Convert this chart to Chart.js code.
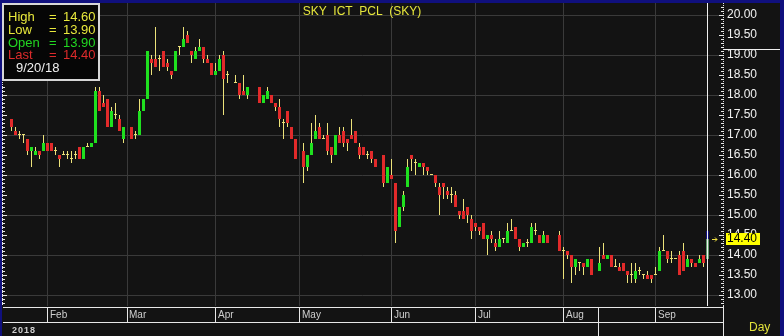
<!DOCTYPE html>
<html><head><meta charset="utf-8">
<script src="https://cdn.jsdelivr.net/npm/chart.js@4/dist/chart.umd.min.js"></script>
<style>html,body{margin:0;padding:0;background:#131313;overflow:hidden}canvas{display:block}</style>
</head><body>
<canvas id="c" width="784" height="336"></canvas>
<script>
// One slot per weekday, 19 Jan 2018 .. 20 Sep 2018 (null = exchange holiday)
const opens = [
17.4,17.1,17.0,17.0,16.9,16.6,16.5,16.6,16.6,16.8,
16.8,16.6,16.5,16.5,16.5,16.4,16.5,16.7,16.4,16.7,
16.7,16.8,18.1,17.8,17.9,17.2,17.5,17.4,16.9,null,
17.2,17.0,17.0,17.6,17.9,18.9,18.9,18.9,19.1,18.8,
18.6,18.6,19.2,19.2,19.5,19.1,18.9,19.1,19.2,18.9,
18.8,18.5,18.6,19.0,18.5,null,18.3,18.3,18.1,18.0,
null,null,18.2,17.8,17.9,18.0,17.8,17.7,17.3,17.6,
17.2,16.9,null,16.6,16.2,16.5,16.9,17.2,16.9,17.0,
16.7,16.5,17.0,17.1,16.9,17.0,17.1,16.7,16.7,16.5,
16.6,16.4,null,16.5,15.8,16.0,15.8,14.7,15.2,15.7,
16.5,16.3,16.2,16.3,16.2,16.0,16.0,15.7,15.8,15.6,
15.5,15.5,15.1,15.1,15.2,14.9,14.8,14.7,14.8,14.4,
14.5,14.3,14.2,14.4,14.3,14.6,14.7,14.4,14.2,14.3,
14.3,14.6,14.5,14.3,14.5,null,null,14.5,14.1,14.1,
14.0,13.7,13.8,13.8,13.7,13.9,null,13.6,14.0,13.9,
14.0,13.7,13.7,13.8,13.6,13.5,13.4,13.6,13.5,13.5,
13.5,13.5,13.6,14.1,14.1,13.9,13.9,14.0,14.1,13.7,
13.9,13.8,13.8,14.0,13.9];
const highs = [
17.4,17.2,17.1,17.0,16.9,16.7,16.7,16.6,17.0,16.8,
16.8,16.7,16.5,16.6,16.6,16.6,16.6,16.7,16.7,16.8,
16.8,18.2,18.2,18.0,17.9,17.7,17.8,17.5,17.2,null,
17.2,17.1,17.9,17.9,19.1,19.0,19.7,19.0,19.1,18.9,
18.6,19.1,19.2,19.7,19.6,19.1,19.2,19.4,19.2,19.0,
18.8,18.8,19.0,19.1,18.6,null,18.5,18.3,18.5,18.2,
null,null,18.2,18.0,18.2,18.0,17.8,17.9,17.4,17.6,
17.2,16.9,null,16.8,16.5,17.3,17.5,17.3,17.0,17.3,
16.7,17.0,17.2,17.2,16.9,17.4,17.1,16.8,16.7,16.6,
16.6,16.4,null,16.5,16.2,16.4,15.8,15.2,15.6,16.4,
16.5,16.4,16.3,16.3,16.2,16.0,16.0,15.8,15.8,15.7,
15.7,15.6,15.1,15.4,15.2,15.0,14.8,14.7,14.8,14.5,
14.6,14.4,14.6,14.4,14.8,14.9,14.7,14.4,14.3,14.4,
14.8,14.8,14.5,14.6,14.5,null,null,14.6,14.2,14.1,
14.0,13.9,13.8,13.8,13.9,13.9,null,14.2,14.3,14.0,
14.0,13.9,13.8,13.8,13.6,13.8,13.8,13.7,13.5,13.6,
13.5,13.7,14.2,14.5,14.1,14.1,13.9,14.1,14.3,14.0,
13.9,13.8,14.0,14.0,14.6];
const lows = [
17.1,17.0,16.9,16.8,16.5,16.2,16.5,16.4,16.6,16.6,
16.6,16.5,16.2,16.5,16.4,16.3,16.4,16.4,16.4,16.7,
16.7,16.8,17.6,17.7,17.2,17.2,17.4,17.1,16.8,null,
16.9,16.9,17.0,17.6,17.9,18.5,18.7,18.6,18.7,18.6,
18.4,18.6,19.0,19.2,19.3,18.8,18.9,19.1,18.8,18.8,
18.5,18.5,18.6,17.5,18.3,null,18.3,17.9,18.0,17.9,
null,null,17.8,17.8,17.9,17.8,17.6,17.2,16.9,17.2,
16.9,16.4,null,15.8,16.1,16.5,16.9,16.9,16.9,16.5,
16.3,16.5,16.8,16.7,16.6,16.9,16.8,16.4,16.5,16.4,
16.3,16.2,null,15.7,15.8,15.9,14.3,14.7,15.1,15.7,
16.1,16.0,16.2,16.0,16.0,16.0,15.7,15.0,15.4,15.4,
15.3,15.2,14.9,14.9,14.8,14.4,14.6,14.5,14.4,14.0,
14.3,14.1,14.2,14.3,14.3,14.6,14.4,14.1,14.2,14.2,
14.3,14.5,14.3,14.3,14.3,null,null,14.1,13.4,13.9,
13.3,13.5,13.6,13.5,13.7,13.5,null,13.6,13.9,13.9,
13.7,13.7,13.6,13.6,13.3,13.3,13.3,13.5,13.4,13.4,
13.3,13.5,13.6,14.1,13.8,13.8,13.9,13.5,13.6,13.7,
13.7,13.7,13.8,13.7,13.9];
const closes = [
17.2,17.0,17.0,17.0,16.6,16.7,16.6,16.5,16.8,16.6,
16.6,16.6,16.4,16.5,16.5,16.4,16.5,16.4,16.7,16.7,
16.8,18.1,17.6,17.7,17.2,17.6,17.5,17.1,17.2,null,
16.9,17.0,17.6,17.9,19.1,18.8,18.7,18.9,18.7,18.7,
18.5,19.1,19.2,19.4,19.3,19.0,19.1,19.2,18.9,18.8,
18.5,18.6,18.9,18.4,18.5,null,18.3,18.0,18.0,18.2,
null,null,17.8,18.0,18.1,17.8,17.7,17.4,17.3,17.3,
16.9,16.4,null,16.2,16.5,16.8,17.1,16.9,16.9,16.6,
16.5,17.0,16.8,16.8,16.8,16.9,16.8,16.5,16.5,16.5,
16.4,16.2,null,15.8,16.2,15.9,14.6,15.2,15.5,16.2,
16.4,16.3,16.3,16.2,16.1,16.0,15.8,15.5,15.7,15.5,
15.5,15.2,15.0,14.9,15.0,14.6,14.7,14.6,14.4,14.5,
14.4,14.2,14.4,14.4,14.6,14.6,14.4,14.2,14.3,14.3,
14.7,14.6,14.3,14.5,14.3,null,null,14.1,14.1,14.0,
13.7,13.9,13.8,13.7,13.9,13.5,null,13.8,13.9,14.0,
13.7,13.7,13.6,13.6,13.5,13.5,13.6,13.6,13.5,13.4,
13.4,13.5,14.1,14.1,13.9,13.9,13.9,13.5,13.6,13.9,
13.8,13.7,13.9,13.8,14.4];

const monthLabels = ['Feb','Mar','Apr','May','Jun','Jul','Aug','Sep'];
const monthStarts = [9, 29, 51, 72, 95, 116, 138, 161];   // slot index of first weekday
const bandSeparators = [146.75];
const yTicks = [13.0,13.5,14.0,14.5,15.0,15.5,16.0,16.5,17.0,17.5,18.0,18.5,19.0,19.5,20.0];
const yearLabel = '2018';
const titleText = 'SKY  ICT  PCL  (SKY)';
const lastDate = '9/20/18';
const periodLabel = 'Day';

const UP = '#1fe01f', DOWN = '#e22a2a', WICK = '#ece27a', LASTBODY = '#5f9b6b', NAVY = '#10107e';
const GRID = '#3a3a3a', FONT = '"Liberation Sans", Arial, sans-serif';

const last = opens.length - 1;
const bodyData = [], wickData = [];
for (let i = 0; i < opens.length; i++) {
  if (opens[i] == null) continue;
  bodyData.push({x: i, y: [opens[i], closes[i]]});
  wickData.push({x: i, y: [lows[i], highs[i]]});
}
const topData = [{x: last, y: [closes[last], highs[last]]}];

const deco = {
  id: 'deco',
  beforeDraw(chart) {
    const c = chart.ctx;
    c.save(); c.fillStyle = '#131313'; c.fillRect(0, 0, chart.width, chart.height); c.restore();
  },
  afterDraw(chart) {
    const c = chart.ctx, xs = chart.scales.x, ys = chart.scales.y, a = chart.chartArea;
    c.save();
    // cursor line at last bar
    const lx = Math.floor(xs.getPixelForValue(last));
    c.fillStyle = '#f0f0f0';
    c.fillRect(lx, a.top, 1, a.bottom - a.top);

    // right axis dotted line + ticks
    c.fillStyle = '#e8e8e8';
    for (let y = Math.ceil(a.top); y < a.bottom; y += 2) c.fillRect(723, y, 1, 1);
    for (let v = 12.8; v <= 20.3; v += 0.1) {
      const y = Math.round(ys.getPixelForValue(v));
      const major = Math.abs(v * 2 - Math.round(v * 2)) < 1e-6;
      c.fillRect(major ? 719 : 721, y, major ? 5 : 3, 1);
    }
    // left axis ticks
    for (let y = 80; y < a.bottom; y += 2) c.fillRect(2, y, 1, 1);
    for (let v = 12.8; v <= 18.3; v += 0.1) {
      const y = Math.round(ys.getPixelForValue(v));
      if (y < 80) continue;
      const major = Math.abs(v * 2 - Math.round(v * 2)) < 1e-6;
      c.fillRect(2, y, major ? 5 : 3, 1);
    }

    // bottom band
    c.fillStyle = '#131313'; c.fillRect(0, a.bottom, 784, 336 - a.bottom);
    c.fillStyle = '#e8e8e8';
    c.fillRect(3, 307, 720, 1);
    c.fillRect(3, 322, 720, 1);
    monthStarts.forEach(m => c.fillRect(Math.round(xs.getPixelForValue(m) - 0.5), 307, 1, 15));
    bandSeparators.forEach(m => c.fillRect(Math.round(xs.getPixelForValue(m) - 0.5), 307, 1, 29));
    c.fillRect(723, a.bottom, 1, 336 - a.bottom);
    c.fillStyle = '#cfcfcf';
    c.font = '10px ' + FONT; c.textBaseline = 'middle'; c.textAlign = 'left';
    monthStarts.forEach((m, i) => c.fillText(monthLabels[i], Math.round(xs.getPixelForValue(m)) + 2, 315));
    c.font = 'bold 9px ' + FONT;
    c.textBaseline = 'alphabetic';
    [...yearLabel].forEach((ch, i) => c.fillText(ch, 12 + i * 6, 333));
    c.fillStyle = '#e2e23a'; c.font = '12px ' + FONT;
    c.fillText(periodLabel, 749, 331);

    // right panel line
    c.fillStyle = '#f0f0f0'; c.fillRect(723, 49, 58, 1);

    // last price marker
    const py = Math.round(ys.getPixelForValue(closes[last]));
    c.fillStyle = '#ffff00'; c.fillRect(726, py - 6, 34, 12);
    c.fillStyle = '#000'; c.font = '12px ' + FONT; c.textBaseline = 'middle';
    c.fillText(closes[last].toFixed(2), 727, py);
    c.strokeStyle = '#f0e040'; c.lineWidth = 1;
    c.beginPath(); c.moveTo(712, py + 0.5); c.lineTo(717, py + 0.5);
    c.moveTo(715, py - 1.5); c.lineTo(717, py + 0.5); c.lineTo(715, py + 2.5); c.stroke();

    // title
    c.fillStyle = '#e6e63c'; c.font = '12px ' + FONT; c.textAlign = 'center'; c.textBaseline = 'alphabetic';
    c.fillText(titleText, 362, 15);

    // info box
    c.fillStyle = '#060606'; c.fillRect(3, 4, 96, 76);
    c.strokeStyle = '#d6d6d6'; c.lineWidth = 2; c.strokeRect(3, 4, 96, 76);
    c.font = '13px ' + FONT; c.textAlign = 'left';
    const rows = [
      ['High', highs[last], '#e8e83c'],
      ['Low', lows[last], '#e8e83c'],
      ['Open', opens[last], '#22d622'],
      ['Last', closes[last], '#dd2b2b']];
    rows.forEach((r, i) => {
      const y = 21 + i * 12.8;
      c.fillStyle = r[2];
      c.fillText(r[0], 8, y); c.fillText('=', 49, y); c.fillText(r[1].toFixed(2), 63, y);
    });
    c.fillStyle = '#f0f0f0'; c.fillText(lastDate, 16, 72);

    // navy frame
    c.fillStyle = NAVY;
    c.fillRect(0, 0, 784, 3); c.fillRect(0, 0, 2, 336); c.fillRect(780, 0, 4, 336);
    c.restore();
  }
};

new Chart(document.getElementById('c'), {
  type: 'bar',
  data: { datasets: [
    { data: bodyData, order: 0, barThickness: 3, minBarLength: 1, grouped: false, borderWidth: 0, inflateAmount: 0,
      backgroundColor: ctx => { const r = ctx.raw; if (!r) return UP; if (r.x === last) return LASTBODY;
        const o = r.y[0], cl = r.y[1]; return cl > o ? UP : (cl < o ? DOWN : WICK); } },
    { data: topData, order: 1, barThickness: 3, grouped: false, borderWidth: 0, inflateAmount: 0, backgroundColor: NAVY },
    { data: wickData, order: 2, barThickness: 1, grouped: false, borderWidth: 0, inflateAmount: 0, backgroundColor: WICK }
  ]},
  plugins: [deco],
  options: {
    responsive: false, animation: false, devicePixelRatio: 1,
    layout: { padding: { left: 3.5, top: 3, right: 0, bottom: 0 } },
    plugins: { legend: { display: false }, tooltip: { enabled: false } },
    scales: {
      x: { type: 'linear', min: -2, max: 177.625, offset: false,
        grid: { offset: false, color: GRID, drawTicks: false }, border: { display: false },
        afterBuildTicks: s => { s.ticks = monthStarts.map(v => ({ value: v })); },
        ticks: { display: false, autoSkip: false, maxRotation: 0 },
        afterFit: s => { s.height = 30; s.paddingLeft = 0; s.paddingRight = 0; } },
      y: { position: 'right', min: 12.725, max: 20.3,
        grid: { drawTicks: false, color: ctx => (ctx.tick && Math.abs(ctx.tick.value - Math.round(ctx.tick.value)) < 1e-9) ? GRID : 'rgba(0,0,0,0)' },
        border: { display: false },
        afterBuildTicks: s => { s.ticks = yTicks.map(v => ({ value: v })); },
        ticks: { color: '#f2f2f2', padding: 5, font: { family: '"Liberation Sans", Arial, sans-serif', size: 12 },
          callback: v => Number(v).toFixed(2) },
        afterFit: s => { s.width = 62; s.paddingTop = 0; s.paddingBottom = 0; } }
    }
  }
});
</script>
</body></html>
